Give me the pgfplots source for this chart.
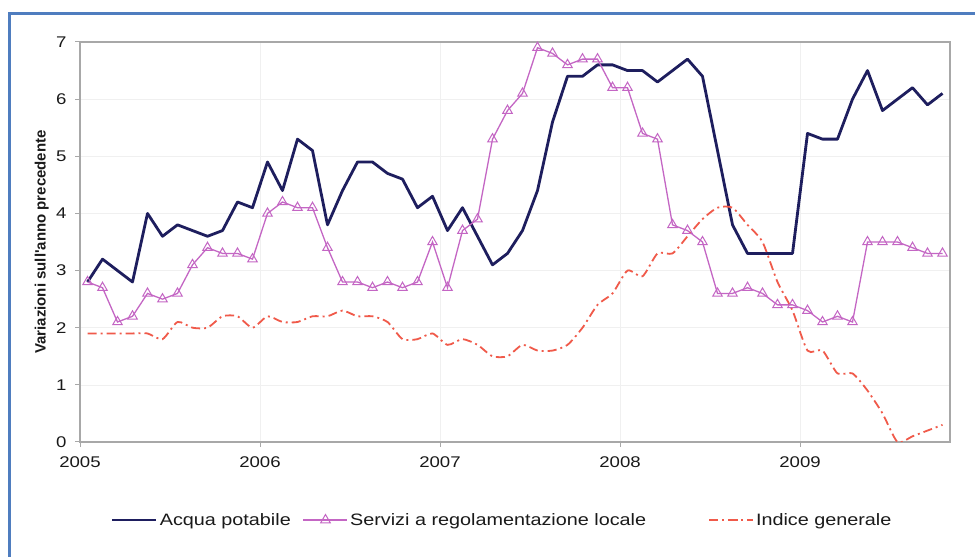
\documentclass[border=0pt]{standalone}
\usepackage{pgfplots}
\usepackage{pgfplotstable}
\pgfplotsset{compat=1.18}
\usepackage{fontspec}
\setmainfont{Liberation Sans}[FakeStretch=1.2]
\newfontfamily\labelfont{Liberation Sans}

\definecolor{navyline}{HTML}{1E1E5E}
\definecolor{orchidline}{HTML}{C466C4}
\definecolor{redidx}{HTML}{F05A4A}
\definecolor{framecol}{HTML}{4F7DBF}
\definecolor{axgray}{HTML}{A8A8A8}
\definecolor{txt}{HTML}{1A1A1A}

% monthly year-on-year changes, Jan 2005 - Oct 2009 (x in months from Jan 2005, mid-month)
\pgfplotstableread{
m     acqua servizi indice
0.5   2.8   2.8   1.9
1.5   3.2   2.7   1.9
2.5   3.0   2.1   1.9
3.5   2.8   2.2   1.9
4.5   4.0   2.6   1.9
5.5   3.6   2.5   1.8
6.5   3.8   2.6   2.1
7.5   3.7   3.1   2.0
8.5   3.6   3.4   2.0
9.5   3.7   3.3   2.2
10.5  4.2   3.3   2.2
11.5  4.1   3.2   2.0
12.5  4.9   4.0   2.2
13.5  4.4   4.2   2.1
14.5  5.3   4.1   2.1
15.5  5.1   4.1   2.2
16.5  3.8   3.4   2.2
17.5  4.4   2.8   2.3
18.5  4.9   2.8   2.2
19.5  4.9   2.7   2.2
20.5  4.7   2.8   2.1
21.5  4.6   2.7   1.8
22.5  4.1   2.8   1.8
23.5  4.3   3.5   1.9
24.5  3.7   2.7   1.7
25.5  4.1   3.7   1.8
26.5  3.6   3.9   1.7
27.5  3.1   5.3   1.5
28.5  3.3   5.8   1.5
29.5  3.7   6.1   1.7
30.5  4.4   6.9   1.6
31.5  5.6   6.8   1.6
32.5  6.4   6.6   1.7
33.5  6.4   6.7   2.0
34.5  6.6   6.7   2.4
35.5  6.6   6.2   2.6
36.5  6.5   6.2   3.0
37.5  6.5   5.4   2.9
38.5  6.3   5.3   3.3
39.5  6.5   3.8   3.3
40.5  6.7   3.7   3.6
41.5  6.4   3.5   3.9
42.5  5.1   2.6   4.1
43.5  3.8   2.6   4.1
44.5  3.3   2.7   3.8
45.5  3.3   2.6   3.5
46.5  3.3   2.4   2.8
47.5  3.3   2.4   2.3
48.5  5.4   2.3   1.6
49.5  5.3   2.1   1.6
50.5  5.3   2.2   1.2
51.5  6.0   2.1   1.2
52.5  6.5   3.5   0.9
53.5  5.8   3.5   0.5
54.5  6.0   3.5   0.0
55.5  6.2   3.4   0.1
56.5  5.9   3.3   0.2
57.5  6.1   3.3   0.3
}\datatable

\begin{document}
\begin{tikzpicture}[x=1pt,y=1pt]
\path[use as bounding box] (0,0) rectangle (975,557);
\fill[white] (0,0) rectangle (975,557);
\draw[framecol, line width=3pt] (9.5,-20) -- (9.5,543) -- (995,543);
\begin{axis}[
  at={(80pt,115pt)}, anchor=south west,
  scale only axis, width=870pt, height=400pt,
  xmin=0, xmax=58, ymin=0, ymax=7,
  xtick={0,12,24,36,48},
  xticklabels={2005,2006,2007,2008,2009},
  ytick={0,1,...,7},
  tick pos=left, tick align=outside,
  major tick length=5pt,
  tick style={axgray, line width=1pt},
  axis line style={axgray, line width=1.6pt},
  grid=major, grid style={gray!12, line width=0.6pt},
  /pgf/number format/assume math mode=true,
  ticklabel style={font=\fontsize{15.5}{18}\selectfont, text=txt},
  xticklabel style={yshift=-6pt},
  yticklabel style={xshift=-5pt},
  ylabel={Variazioni sull'anno precedente},
  ylabel style={at={(axis description cs:-0.044,0.5)}, anchor=center, rotate=0,
    font=\labelfont\bfseries\fontsize{15}{18}\selectfont, text=txt},
  legend style={at={(0.032,-0.195)}, anchor=west, draw=none, fill=none,
    legend columns=3, font=\fontsize{16.5}{19}\selectfont, text=txt,
    /tikz/column 2/.style={column sep=10pt},
    /tikz/column 4/.style={column sep=60pt}},
  legend cell align=left,
  legend image code/.code={%
    \draw[mark repeat=2, mark phase=2, #1] plot coordinates {(0pt,0pt) (22pt,0pt) (44pt,0pt)};},
]
\addplot[navyline, line width=2.8pt, line join=round] table[x=m, y=acqua]{\datatable};
\addlegendentry{Acqua potabile}
\addplot[orchidline, line width=1.3pt, mark=triangle,
  mark options={solid, fill=white, mark size=5.5pt, line width=1pt}] table[x=m, y=servizi]{\datatable};
\addlegendentry{Servizi a regolamentazione locale}
\addplot[redidx, line width=1.8pt, smooth, tension=0.4,
  dash pattern=on 9pt off 4pt on 2pt off 4pt] table[x=m, y=indice]{\datatable};
\addlegendentry{Indice generale}
\end{axis}
\end{tikzpicture}
\end{document}
